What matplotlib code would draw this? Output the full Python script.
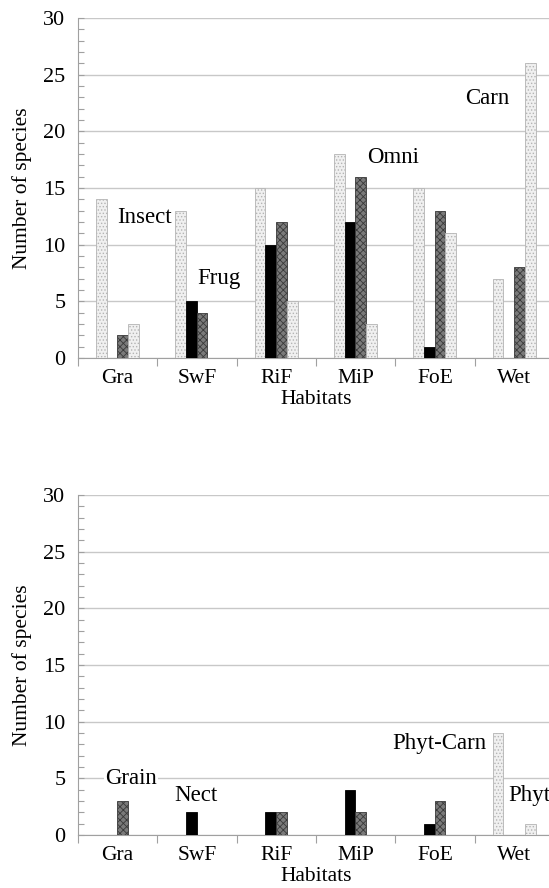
import matplotlib
matplotlib.use("Agg")
import matplotlib.pyplot as plt
import numpy as np

habitats = ["Gra", "SwF", "RiF", "MiP", "FoE", "Wet"]

# Top panel series
insect = [14, 13, 15, 18, 15, 7]
frug = [0, 5, 10, 12, 1, 0]
omni = [2, 4, 12, 16, 13, 8]
carn = [3, 0, 5, 3, 11, 26]

# Bottom panel series
phyt_carn = [0, 0, 0, 0, 0, 9]
nect = [0, 2, 2, 4, 1, 0]
grain = [3, 0, 2, 2, 3, 0]
phyt = [0, 0, 0, 0, 0, 1]

top_labels = [("Insect", 0.49, 12.4), ("Frug", 1.51, 7.0), ("Omni", 3.64, 17.7), ("Carn", 4.88, 22.9)]
bot_labels = [("Grain", 0.34, 5.0), ("Nect", 1.21, 3.5), ("Phyt-Carn", 3.96, 8.1), ("Phyt", 5.43, 3.5)]

plt.rcParams['font.family'] = ['Liberation Serif', 'DejaVu Serif']
plt.rcParams['hatch.linewidth'] = 0.6

fig = plt.figure(figsize=(5.49, 8.88), dpi=100)

styles = [
    dict(facecolor='#f0f0f0', edgecolor='#b4b4b4', hatch='.....'),
    dict(facecolor='black', edgecolor='black', hatch=None),
    dict(facecolor='#7a7a7a', edgecolor='#3a3a3a', hatch='xxxxx'),
    dict(facecolor='#f0f0f0', edgecolor='#b4b4b4', hatch='.....'),
]

bw = 0.135
offsets = [0.2945 + k * bw for k in range(4)]
grid_c = '#c8c8c8'


def draw(ax, series, labels):
    x = np.arange(len(habitats))
    for k, vals in enumerate(series):
        st = styles[k]
        ax.bar(x + offsets[k], vals, width=bw, facecolor=st['facecolor'],
               edgecolor=st['edgecolor'], hatch=st['hatch'], linewidth=0.6, zorder=3)
    ax.set_xlim(0, 6)
    ax.set_ylim(0, 30)
    ax.set_yticks(np.arange(0, 31, 5))
    ax.set_yticks(np.arange(0, 31, 1), minor=True)
    ax.set_xticks(np.arange(0, 7))
    ax.set_xticklabels([])
    ax.set_xticks(x + 0.5, minor=True)
    ax.set_xticklabels(habitats, minor=True)
    ax.tick_params(axis='x', which='major', direction='out', length=6, color='#a0a0a0', width=0.8)
    ax.tick_params(axis='x', which='minor', length=0, pad=8, labelsize=15.5)
    ax.tick_params(axis='y', which='both', direction='in', length=4, color='#a0a0a0', width=0.8,
                   labelsize=16, pad=9)
    ax.yaxis.grid(True, which='major', color=grid_c, linewidth=1.0, zorder=0)
    ax.set_axisbelow(True)
    for s in ['top', 'right']:
        ax.spines[s].set_visible(False)
    for s in ['left', 'bottom']:
        ax.spines[s].set_color('#a0a0a0')
        ax.spines[s].set_linewidth(0.8)
    ax.set_xlabel("Habitats", fontsize=15.5, labelpad=1)
    ax.set_ylabel("Number of species", fontsize=15.5, labelpad=8)
    for txt, tx, ty in labels:
        ax.text(tx, ty, txt, fontsize=16.5, ha='left', va='center', zorder=4,
                bbox=dict(facecolor='white', edgecolor='none', pad=1))


W = 549.0
H = 888.0
left = 78 / W
width = 476 / W
ax1 = fig.add_axes([left, (H - 358) / H, width, 340 / H])
ax2 = fig.add_axes([left, (H - 835) / H, width, 340 / H])
draw(ax1, [insect, frug, omni, carn], top_labels)
draw(ax2, [phyt_carn, nect, grain, phyt], bot_labels)

fig.savefig("out.png", dpi=100)
